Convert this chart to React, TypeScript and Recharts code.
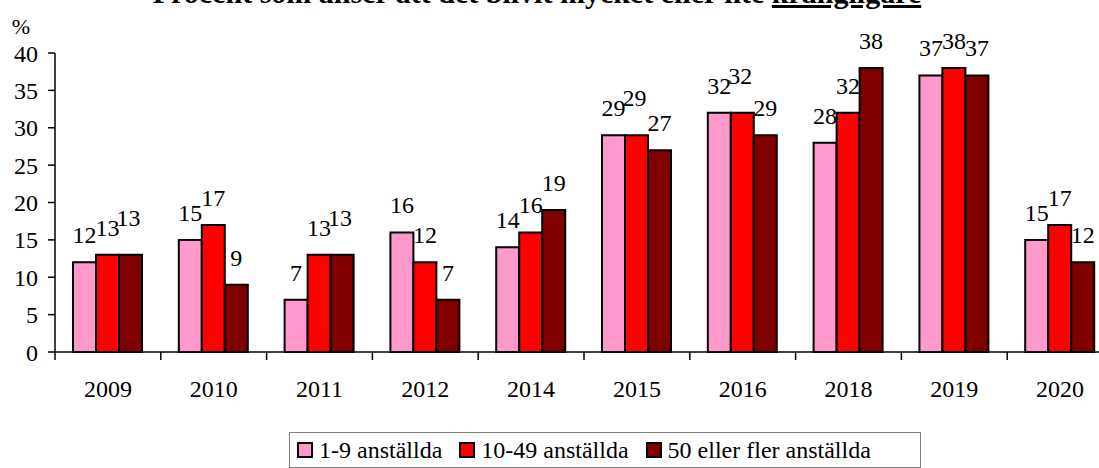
import React from 'react';
import { BarChart, Bar, XAxis, YAxis, Legend, LabelList } from 'recharts';

const years = ['2009', '2010', '2011', '2012', '2014', '2015', '2016', '2018', '2019', '2020'];
const small = [12, 15, 7, 16, 14, 29, 32, 28, 37, 15];
const medium = [13, 17, 13, 12, 16, 29, 32, 32, 38, 17];
const large = [13, 9, 13, 7, 19, 27, 29, 38, 37, 12];
const seriesNames = ['1-9 anställda', '10-49 anställda', '50 eller fler anställda'];
const seriesColors = ['#FF99CC', '#FF0000', '#800000'];
const yTicks = [0, 5, 10, 15, 20, 25, 30, 35, 40];
const titleText = 'Procent som anser att det blivit mycket eller lite ';
const titleEmph = 'krångligare';
const unitLabel = '%';

const FONT = '"Liberation Serif", "Times New Roman", Times, serif';
const seriesValues = [small, medium, large];
const seriesKeys = ['s0', 's1', 's2'];

const data = years.map((y, i) => ({ year: y, s0: small[i], s1: medium[i], s2: large[i] }));

const CHART_W = 1130;
const CHART_H = 468;
const MARGIN = { top: 53, right: 17, left: 0, bottom: 40 };
const Y_W = 55;
const BAND = (CHART_W - MARGIN.left - MARGIN.right - Y_W) / years.length;

const makeLabel = (si: number) => (props: any) => {
  const x = Number(props.x);
  const y = Number(props.y);
  const w = Number(props.width);
  const idx = props.index;
  const value = props.value;
  const prev = si > 0 && idx != null ? seriesValues[si - 1][idx] : undefined;
  const bump = prev === value;
  return (
    <text
      x={x + w / 2 - (bump ? 2 : 0)}
      y={y - 19 - (bump ? 10 : 0)}
      textAnchor="middle"
      fontSize={24}
      fontFamily={FONT}
      fill="#000"
    >
      {value}
    </text>
  );
};

const XTick = (props: any) => {
  const { x, y, payload } = props;
  const axisY = Number(y) - 8;
  const half = payload && payload.offset ? payload.offset : BAND / 2;
  return (
    <g>
      <line x1={x - half} x2={x - half} y1={axisY} y2={axisY + 8} stroke="#000" strokeWidth={1.5} />
      <text x={x} y={axisY + 45} textAnchor="middle" fontSize={24} fontFamily={FONT} fill="#000">
        {payload.value}
      </text>
    </g>
  );
};

const renderLegend = (props: any) => {
  const payload = props.payload || [];
  return (
    <div
      style={{
        display: 'flex',
        alignItems: 'center',
        height: 36,
        width: 632,
        boxSizing: 'border-box',
        border: '1px solid #808080',
        paddingLeft: 7,
        fontFamily: FONT,
        fontSize: 24,
        color: '#000',
        background: '#fff',
        whiteSpace: 'nowrap',
      }}
    >
      {payload.map((entry: any, i: number) => (
        <div key={i} style={{ display: 'flex', alignItems: 'center', marginRight: i < payload.length - 1 ? 17 : 0 }}>
          <span
            style={{
              display: 'inline-block',
              width: 16,
              height: 16,
              boxSizing: 'border-box',
              border: '2px solid #000',
              background: entry.color,
              marginRight: 6,
            }}
          />
          <span style={{ lineHeight: '24px' }}>{entry.value}</span>
        </div>
      ))}
    </div>
  );
};

export default function App() {
  return (
    <div
      style={{
        position: 'fixed',
        left: 0,
        top: 0,
        width: 1099,
        height: 468,
        overflow: 'hidden',
        background: '#fff',
        fontFamily: FONT,
      }}
    >
      <BarChart
        width={CHART_W}
        height={CHART_H}
        data={data}
        margin={MARGIN}
        barCategoryGap={18}
        barGap={0}
        style={{ fontFamily: FONT }}
      >
        <XAxis
          dataKey="year"
          height={40}
          interval={0}
          tickLine={false}
          tickSize={8}
          tickMargin={0}
          axisLine={{ stroke: '#000', strokeWidth: 1.5 }}
          tick={<XTick />}
        />
        <YAxis
          width={Y_W}
          domain={[0, 40]}
          ticks={yTicks}
          interval={0}
          tickSize={7}
          tickMargin={10}
          axisLine={{ stroke: '#000', strokeWidth: 1.5 }}
          tickLine={{ stroke: '#000', strokeWidth: 1.5 }}
          tick={{ fontSize: 24, fill: '#000', fontFamily: FONT }}
        />
        <Legend
          content={renderLegend}
          wrapperStyle={{ left: 289, top: 432, width: 632, height: 36 }}
        />
        {seriesKeys.map((k, si) => (
          <Bar
            key={k}
            dataKey={k}
            name={seriesNames[si]}
            fill={seriesColors[si]}
            stroke="#000"
            strokeWidth={2}
            isAnimationActive={false}
          >
            <LabelList dataKey={k} content={makeLabel(si)} />
          </Bar>
        ))}
      </BarChart>
      <svg
        width={1099}
        height={60}
        style={{ position: 'absolute', left: 0, top: 0, pointerEvents: 'none' }}
      >
        <text x={537} y={3} textAnchor="middle" fontSize={30} fontWeight="bold" fontFamily={FONT} fill="#000">
          {titleText}
          <tspan style={{ textDecoration: 'underline', textDecorationThickness: '3px' } as any}>{titleEmph}</tspan>
        </text>
        <text x={21} y={34} textAnchor="middle" fontSize={22} fontFamily={FONT} fill="#000">
          {unitLabel}
        </text>
      </svg>
    </div>
  );
}
